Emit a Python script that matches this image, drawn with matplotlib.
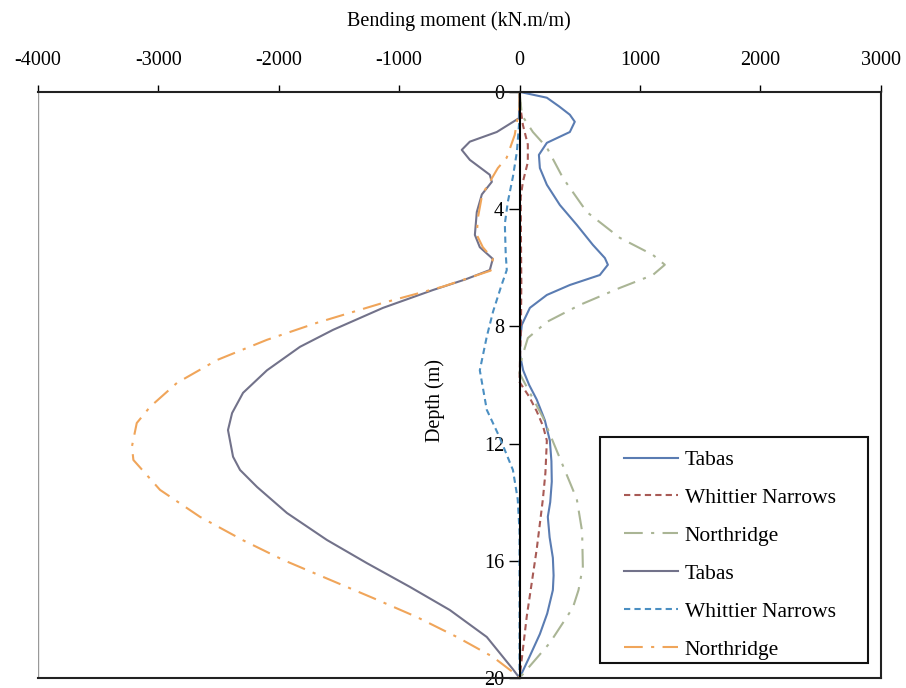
import matplotlib
matplotlib.use("Agg")
import matplotlib.pyplot as plt
from matplotlib.patches import Rectangle

plt.rcParams['font.family'] = ['Liberation Serif', 'DejaVu Serif']

# series: depth (m) and bending moment (kN.m/m)
tabas1_depth = [0, 0.2, 0.5, 0.78, 1.02, 1.37, 1.74, 2.15, 2.6, 3.17, 3.86, 4.54, 5.22, 5.67,
                5.9, 6.25, 6.59, 6.93, 7.37, 7.95, 8.5, 9.0, 9.5, 10.0, 10.5, 11.2, 11.9,
                12.6, 13.3, 14.0, 14.5, 15.2, 15.9, 16.5, 17.0, 17.8, 18.5, 19.3, 20]
tabas1_moment = [0, 227, 330, 418, 459, 418, 227, 161, 169, 227, 335, 476, 609, 709,
                 734, 667, 418, 227, 86, 19, 5, 5, 30, 80, 143, 210, 252,
                 265, 268, 255, 235, 250, 277, 283, 277, 230, 169, 80, 0]

whittier1_depth = [0, 0.6, 1.13, 1.8, 2.4, 3.07, 3.6, 5.0, 6.5, 8.0, 9.0, 9.9, 10.4, 10.9,
                   11.4, 11.9, 13.0, 13.9, 15.6, 17.9, 20]
whittier1_moment = [0, 10, 28, 69, 69, 28, 10, 12, 15, 12, 5, 0, 80, 143,
                    195, 227, 215, 194, 143, 60, 0]

northridge1_depth = [0, 0.8, 1.37, 1.9, 2.94, 4.1, 4.98, 5.56, 5.9, 6.25, 6.69, 7.27, 7.85,
                     8.4, 9.08, 9.6, 10.3, 11.1, 12.5, 13.9, 15.0, 16.2, 17.0, 17.6, 18.8, 20]
northridge1_moment = [0, 20, 111, 227, 361, 559, 833, 1107, 1207, 1107, 833, 501, 227,
                      69, 19, 0, 90, 194, 335, 476, 520, 526, 490, 443, 252, 0]

tabas2_depth = [0, 0.9, 1.37, 1.7, 1.98, 2.32, 2.83, 3.07, 3.5, 4.1, 4.88, 5.3, 5.7, 6.08,
                6.4, 6.76, 7.37, 8.12, 8.7, 9.5, 10.27, 10.96, 11.54, 12.45, 12.9, 13.48,
                14.37, 15.29, 16.08, 16.89, 17.68, 18.6, 19.7, 20]
tabas2_moment = [0, -5, -189, -413, -480, -413, -247, -230, -313, -355, -371, -330, -222,
                 -247, -450, -718, -1134, -1549, -1824, -2098, -2297, -2388, -2422, -2380,
                 -2322, -2181, -1932, -1600, -1268, -911, -579, -272, -55, 0]

whittier2_depth = [0, 0.9, 2.05, 2.9, 3.75, 4.5, 5.5, 6.08, 6.6, 7.5, 8.35, 9.5, 10.85,
                   11.8, 12.9, 13.9, 15.0, 20]
whittier2_moment = [0, 0, -22, -55, -97, -122, -115, -106, -150, -220, -272, -330, -272,
                    -164, -55, -15, 0, 0]

northridge2_depth = [0, 0.5, 1.47, 2.25, 2.6, 3.07, 3.5, 4.3, 4.88, 5.3, 5.7, 6.1, 6.65,
                     7.2, 7.88, 8.46, 9.15, 9.93, 10.75, 11.3, 12.1, 12.56, 13.58, 14.5,
                     15.3, 15.97, 16.65, 17.27, 17.92, 18.6, 19.28, 19.8, 20]
northridge2_moment = [0, 0, -40, -107, -180, -247, -310, -346, -355, -305, -222, -240, -640,
                      -1134, -1683, -2098, -2513, -2846, -3070, -3180, -3220, -3208, -2987,
                      -2655, -2297, -1964, -1574, -1217, -853, -520, -221, -55, 0]

x_ticks = [-4000, -3000, -2000, -1000, 0, 1000, 2000, 3000]
y_ticks = [0, 4, 8, 12, 16, 20]

fig = plt.figure(figsize=(9.06, 6.88), dpi=100)
ax = fig.add_axes([0.042, 0.0145, 0.930, 0.852])

dash = (0, (3, 2))
dashdot = (0, (9, 4, 1.5, 4))
lw = 1.5

ax.plot(tabas1_moment, tabas1_depth, color='#5a7cb2', lw=lw, label='Tabas')
ax.plot(whittier1_moment, whittier1_depth, color='#a85a55', lw=lw, ls=dash, label='Whittier Narrows')
ax.plot(northridge1_moment, northridge1_depth, color='#aab595', lw=lw, ls=dashdot, label='Northridge')
ax.plot(tabas2_moment, tabas2_depth, color='#72728a', lw=lw, label='Tabas')
ax.plot(whittier2_moment, whittier2_depth, color='#4b8fc2', lw=lw, ls=dash, label='Whittier Narrows')
ax.plot(northridge2_moment, northridge2_depth, color='#f0a55a', lw=lw, ls=dashdot, label='Northridge')

ax.set_xlim(-4000, 3000)
ax.set_ylim(20, 0)

# x axis on top, y axis through zero
ax.xaxis.tick_top()
ax.xaxis.set_label_position('top')
ax.set_xticks(x_ticks)
ax.set_xticklabels([str(v) for v in x_ticks], fontsize=14.5)
ax.set_xlabel('Bending moment (kN.m/m)', fontsize=14.5, labelpad=18)
ax.tick_params(axis='x', direction='out', length=5, width=1, pad=11)

ax.spines['left'].set_position(('data', 0))
ax.spines['left'].set_linewidth(1.5)
ax.set_yticks(y_ticks)
ax.set_yticklabels([str(v) for v in y_ticks], fontsize=14.5)
ax.tick_params(axis='y', direction='out', length=8, width=1, pad=3)
ax.set_ylabel('Depth (m)', fontsize=14.5)
ax.yaxis.set_label_coords(0.483, 0.474)

for side in ['top', 'bottom', 'right']:
    ax.spines[side].set_linewidth(1.5)
    ax.spines[side].set_color('#222222')
# outer left edge of the frame
ax.axvline(-4000, color='#999999', lw=1.0)

# legend without its own frame; the box is drawn separately
leg = ax.legend(loc='upper left', bbox_to_anchor=(0.696, 0.389), borderaxespad=0,
                borderpad=0, fontsize=15.5, handlelength=2.5, labelspacing=0.83,
                handletextpad=0.3, frameon=False)
ax.add_patch(Rectangle((0.667, 0.026), 0.318, 0.386, transform=ax.transAxes,
                       fill=False, edgecolor='#111111', lw=1.5, zorder=5))

fig.savefig('out.png', dpi=100)
